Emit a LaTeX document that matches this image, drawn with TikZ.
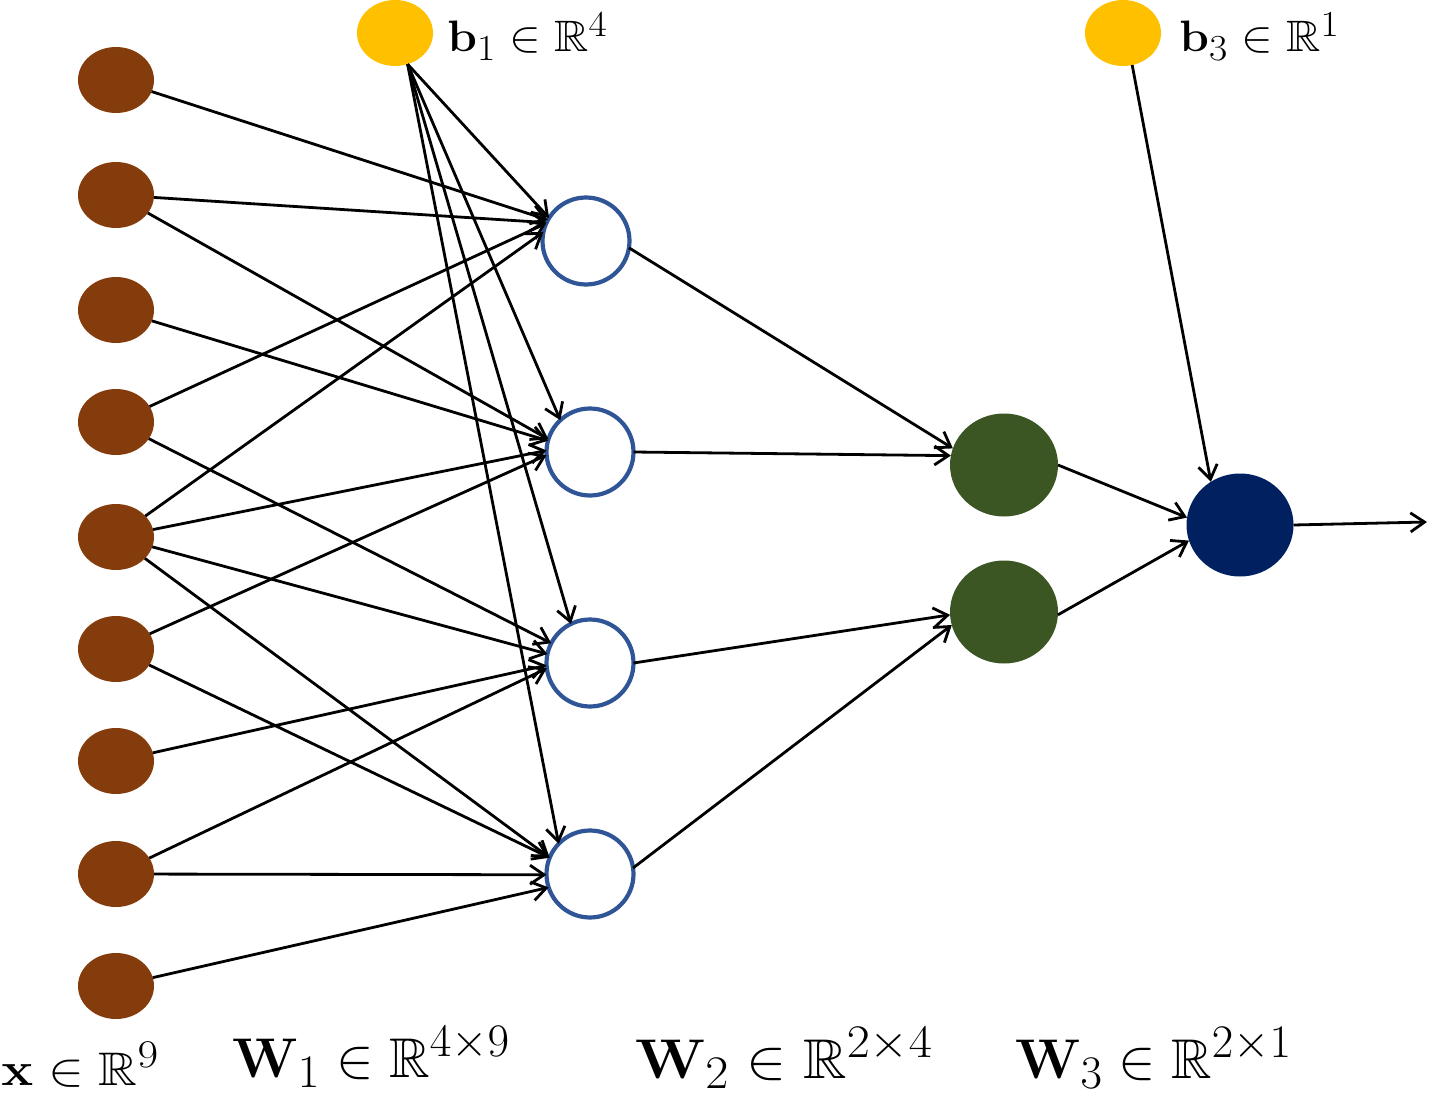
\documentclass[tikz,border=0pt]{standalone}
\usepackage{amsmath,amssymb}
\usetikzlibrary{arrows.meta,shapes.geometric}
\definecolor{inbrown}{HTML}{843C0C}
\definecolor{biasyellow}{HTML}{FFC000}
\definecolor{hidblue}{HTML}{2F5597}
\definecolor{midgreen}{HTML}{3B5623}
\definecolor{outnavy}{HTML}{002060}
\begin{document}
\begin{tikzpicture}[x=1pt,y=-1pt,
  inp/.style={ellipse, fill=inbrown, minimum width=76pt, minimum height=66pt, inner sep=0pt, outer sep=0pt},
  biasn/.style={ellipse, fill=biasyellow, minimum width=76pt, minimum height=66pt, inner sep=0pt, outer sep=0pt},
  hid/.style={circle, draw=hidblue, line width=4.2pt, fill=white, minimum size=87pt, inner sep=0pt, outer sep=0pt},
  midn/.style={ellipse, fill=midgreen, minimum width=108pt, minimum height=103pt, inner sep=0pt, outer sep=0pt},
  outn/.style={ellipse, fill=outnavy, minimum width=107pt, minimum height=103pt, inner sep=0pt, outer sep=0pt},
  conn/.style={line width=2.8pt, -{Straight Barb[length=14pt,width=19pt]}},
  smalllbl/.style={anchor=base west, inner sep=0pt, xscale=1.91, yscale=1.768, font=\Huge},
  biglbl/.style={anchor=base west, inner sep=0pt, yscale=2.25, font=\Huge},
]
\useasboundingbox (0,0) rectangle (1441,1097);
% input layer
\node[inp] (i1) at (116,80) {};
\node[inp] (i2) at (116,195) {};
\node[inp] (i3) at (116,310) {};
\node[inp] (i4) at (116,422) {};
\node[inp] (i5) at (116,537) {};
\node[inp] (i6) at (116,649) {};
\node[inp] (i7) at (116,761) {};
\node[inp] (i8) at (116,874) {};
\node[inp] (i9) at (116,986) {};
% biases
\node[biasn] (b1) at (395,33) {};
\node[biasn] (b3) at (1123,33) {};
% hidden layer
\node[hid] (h1) at (586,241) {};
\node[hid] (h2) at (590,452) {};
\node[hid] (h3) at (590,663) {};
\node[hid] (h4) at (590,874) {};
% second layer
\node[midn] (g1) at (1004,465) {};
\node[midn] (g2) at (1004,612) {};
% output
\node[outn] (o) at (1240,525) {};
\coordinate (oend) at (1427,522);
% labels
\node[smalllbl] (lb1) at (447,52) {$\mathbf{b}_1\in\mathbb{R}^4$};
\node[smalllbl] (lb3) at (1179,52) {$\mathbf{b}_3\in\mathbb{R}^1$};
\node[smalllbl, xscale=1.13, yscale=1.07] (lx) at (1,1085) {$\mathbf{x}\in\mathbb{R}^9$};
\node[biglbl, xscale=2.26] (lw1) at (232,1077) {$\mathbf{W}_1\in\mathbb{R}^{4\times 9}$};
\node[biglbl, xscale=2.42] (lw2) at (635,1078) {$\mathbf{W}_2\in\mathbb{R}^{2\times 4}$};
\node[biglbl, xscale=2.25] (lw3) at (1015,1078) {$\mathbf{W}_3\in\mathbb{R}^{2\times 1}$};
% input -> hidden
\draw[conn] (i1) -- (h1.151);
\draw[conn] (i2) -- (h1.155);
\draw[conn] (i4) -- (h1.156);
\draw[conn] (i5) -- (h1.168);
\draw[conn] (i2) -- (h2.163);
\draw[conn] (i3) -- (h2.165);
\draw[conn] (i5) -- (h2.178);
\draw[conn] (i6) -- (h2.184);
\draw[conn] (i4) -- (h3.153);
\draw[conn] (i5) -- (h3.168);
\draw[conn] (i7) -- (h3.183);
\draw[conn] (i8) -- (h3.187);
\draw[conn] (i5) -- (h4.158);
\draw[conn] (i6) -- (h4.158);
\draw[conn] (i8) -- (h4.181);
\draw[conn] (i9) -- (h4.198);
% bias 1 -> hidden
\draw[conn] (b1.-68) -- (h1.148);
\draw[conn] (b1.-68) -- (h2.133);
\draw[conn] (b1.-68) -- (h3.116);
\draw[conn] (b1.-68) -- (h4.136);
% hidden -> second layer
\draw[conn] (h1.-9) -- (g1.162);
\draw[conn] (h2.0) -- (g1.170);
\draw[conn] (h3.0) -- (g2.183);
\draw[conn] (h4.8) -- (g2.194);
% second layer -> output
\draw[conn] (g1.0) -- (o.172);
\draw[conn] (g2.-3) -- (o.197);
\draw[conn] (b3.-74) -- (o.124);
\draw[conn] (o.0) -- (oend);
\end{tikzpicture}
\end{document}
